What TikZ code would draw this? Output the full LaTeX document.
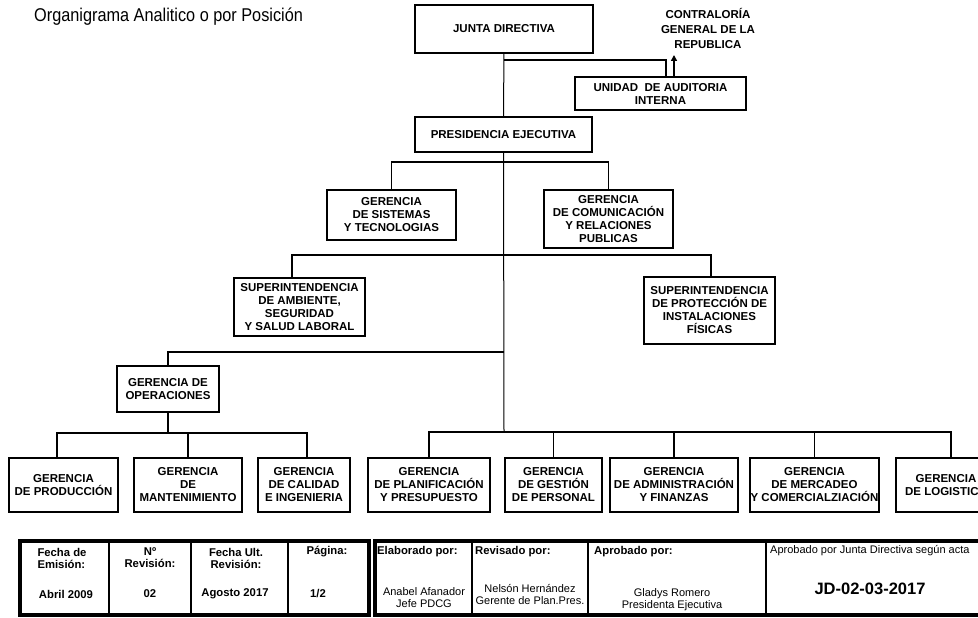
\documentclass[tikz,border=0pt]{standalone}
\usepackage{fontspec}
\setmainfont{Liberation Sans}
\newfontfamily\titlefont[FakeStretch=0.88]{Liberation Sans}
\usetikzlibrary{arrows.meta,positioning}

\begin{document}
\begin{tikzpicture}[x=1pt, y=-1pt,
    box/.style={draw, line width=2.4pt, align=center, inner sep=0.5pt, font=\fontsize{11.5}{13}\selectfont\bfseries},
    bus/.style={line width=1.9pt},
    spine/.style={line width=1pt},
    arr/.style={-{Triangle[length=6pt,width=6pt]}, line width=2pt},
    head/.style={font=\fontsize{11.3}{12}\selectfont\bfseries, inner sep=0pt},
    sig/.style={font=\fontsize{11}{12}\selectfont, align=center, inner sep=0pt}]
\useasboundingbox (0,0) rectangle (978,618);
\clip (0,0) rectangle (978,618);
% pixel grid: x right, y down (978 x 618)
\node[anchor=base west, inner sep=0pt, font=\titlefont\fontsize{18.5}{20}\selectfont] (title) at (34,22) {Organigrama Analitico o por Posición};

\node[box, minimum width=178pt, minimum height=48pt] (junta) at (504,29) {JUNTA DIRECTIVA};
\node[font=\fontsize{11.5}{15}\selectfont\bfseries, align=center, inner sep=0pt] (contra) at (708,28) {CONTRALORÍA\\GENERAL DE LA\\REPUBLICA};
\node[box, line width=1.9pt, minimum width=171pt, minimum height=33pt] (unidad) at (660.5,93.5) {UNIDAD~ DE AUDITORIA\\INTERNA};
\node[box, minimum width=177pt, minimum height=35pt] (pres) at (503.5,134.5) {PRESIDENCIA EJECUTIVA};

\node[box, line width=1.9pt, minimum width=129pt, minimum height=50pt] (sist) at (391.5,215) {GERENCIA\\DE SISTEMAS\\Y TECNOLOGIAS};
\node[box, minimum width=129pt, minimum height=58pt] (comu) at (608.5,219) {GERENCIA\\DE COMUNICACIÓN\\Y RELACIONES\\PUBLICAS};
\node[box, minimum width=131pt, minimum height=58pt] (amb) at (299.5,307) {SUPERINTENDENCIA\\DE AMBIENTE,\\SEGURIDAD\\Y SALUD LABORAL};
\node[box, minimum width=131pt, minimum height=67pt] (prot) at (709.5,310.5) {SUPERINTENDENCIA\\DE PROTECCIÓN DE\\INSTALACIONES\\FÍSICAS};
\node[box, minimum width=102pt, minimum height=46pt] (oper) at (168,389) {GERENCIA DE\\OPERACIONES};

\node[box, minimum width=109pt, minimum height=54pt] (prod) at (63.5,485) {GERENCIA\\DE PRODUCCIÓN};
\node[box, minimum width=108pt, minimum height=54pt] (mant) at (188,485) {GERENCIA\\DE\\MANTENIMIENTO};
\node[box, minimum width=92pt, minimum height=54pt] (cal) at (304,485) {GERENCIA\\DE CALIDAD\\E INGENIERIA};
\node[box, minimum width=122pt, minimum height=54pt] (plan) at (429,485) {GERENCIA\\DE PLANIFICACIÓN\\Y PRESUPUESTO};
\node[box, minimum width=97pt, minimum height=54pt] (gest) at (553.5,485) {GERENCIA\\DE GESTIÓN\\DE PERSONAL};
\node[box, minimum width=128pt, minimum height=54pt] (adm) at (674,485) {GERENCIA\\DE ADMINISTRACIÓN\\Y FINANZAS};
\node[box, minimum width=129pt, minimum height=54pt] (merc) at (814.5,485) {GERENCIA\\DE MERCADEO\\Y COMERCIALZIACIÓN};
\node[box, minimum width=100pt, minimum height=54pt] (log) at (946,485) {GERENCIA\\DE LOGISTICA};

\coordinate (ja) at (504,60);
\coordinate (ct) at (674,55);
\coordinate (b1) at (504,162);
\coordinate (b2) at (504,255);
\coordinate (b3) at (504,352);
\coordinate (sp) at (504,432);

\draw[spine] (junta) -- (pres);
\draw[line width=1.4pt] (ja) -| ([xshift=5.5pt]unidad.north);
\draw[arr] ([xshift=13.5pt]unidad.north) -- (ct);
\draw[spine] (pres) -- (sp);
\draw[bus] (sist) |- (b1) -| (comu);
\draw[bus] ([xshift=-7.5pt]amb.north) |- (b2) -| ([xshift=1.5pt]prot.north);
\draw[bus] (oper) |- (b3);
\draw[bus] (oper.south) -- ++(0,20) coordinate (ob);
\draw[bus] ([xshift=-6.5pt]prod.north) |- (ob) -| ([xshift=3pt]cal.north);
\draw[bus] (mant) -- (mant |- ob);
\draw[bus] (plan) |- (sp) -| ([xshift=5pt]log.north);
\foreach \n in {gest,adm,merc} \draw[bus] (\n) -- (\n |- sp);

% footer tables
\draw[line width=3.2pt] (20,541) rectangle (369,615);
\foreach \x in {109,191,288} \draw[line width=1.3pt] (\x,541) -- (\x,615);
\draw[line width=3.2pt] (375,541) rectangle (995,615);
\foreach \x in {472,588,766} \draw[line width=1.3pt] (\x,541) -- (\x,615);

\node[head, align=left] (emis) at (62,558) {Fecha de\\Emisión:};
\node[head, align=center] (nrev) at (150,558) {Nº\\Revisión:};
\node[head, align=center] (urev) at (236,558) {Fecha Ult.\\Revisión:};
\node[head] (pag) at (327,552) {Página:};
\node[head] (emisv) at (66,594) {Abril 2009};
\node[head] (nrevv) at (150,594) {02};
\node[head] (urevv) at (235,594) {Agosto 2017};
\node[head] (pagv) at (318,594) {1/2};

\node[head, anchor=west] (elab) at (377,552) {Elaborado por:};
\node[head, anchor=west] (revi) at (475,552) {Revisado por:};
\node[head, anchor=west] (apro) at (594,552) {Aprobado por:};
\node[sig, anchor=west] (acta) at (770,551) {Aprobado por Junta Directiva según acta};
\node[sig] (elabv) at (424,598) {Anabel Afanador\\Jefe PDCG};
\node[sig] (reviv) at (530,594) {Nelsón Hernández\\Gerente de Plan.Pres.};
\node[sig] (aprov) at (672,600) {Gladys Romero\\Presidenta Ejecutiva};
\node[font=\fontsize{16.5}{18}\selectfont\bfseries, inner sep=0pt] (actav) at (870,589) {JD-02-03-2017};
\end{tikzpicture}
\end{document}
